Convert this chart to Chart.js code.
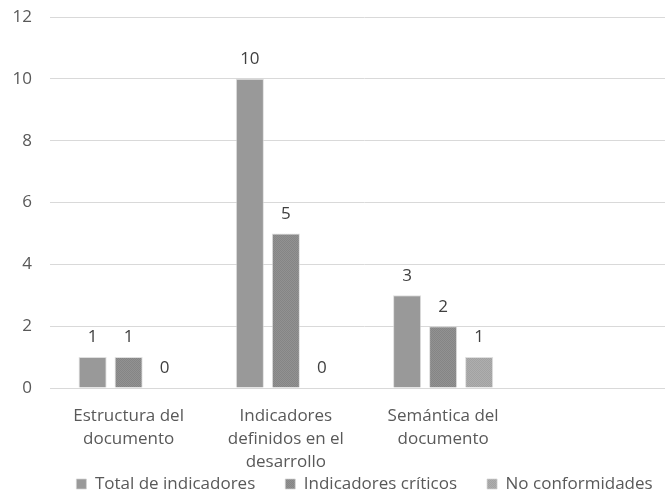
<!DOCTYPE html>
<html>
<head>
<meta charset="utf-8">
<script src="https://cdn.jsdelivr.net/npm/chart.js@4/dist/chart.umd.min.js"></script>
<style>
  html, body { margin: 0; padding: 0; background: #fff; overflow: hidden; }
  #wrap { position: relative; width: 730px; height: 494px; }
</style>
</head>
<body>
<div id="wrap"><canvas id="chart"></canvas></div>
<script>
// Categories (multi-line labels); the trailing empty slot keeps the spacing of the plot
const categories = [
  ['Estructura del', 'documento'],
  ['Indicadores', 'definidos en el', 'desarrollo'],
  ['Semántica del', 'documento'],
  ''
];
const seriesNames = ['Total de indicadores', 'Indicadores críticos', 'No conformidades'];
const totalIndicadores = [1, 10, 3, null];
const indicadoresCriticos = [1, 5, 2, null];
const noConformidades = [0, 0, 1, null];
const yMin = 0, yMax = 12, yStep = 2;

const FONT = '"Open Sans"';
const FONT_SIZE = 17;
const TEXT = '#595959';

// fine dotted fill used for the darker and lighter series
function dotPattern(a, b) {
  const c = document.createElement('canvas');
  c.width = 2; c.height = 2;
  const g = c.getContext('2d');
  g.fillStyle = a; g.fillRect(0, 0, 2, 2);
  g.fillStyle = b; g.fillRect(0, 0, 1, 1); g.fillRect(1, 1, 1, 1);
  return g.createPattern(c, 'repeat');
}

// value labels above each bar
const valueLabels = {
  id: 'valueLabels',
  afterDatasetsDraw(chart) {
    const ctx = chart.ctx;
    ctx.save();
    ctx.font = FONT_SIZE + 'px ' + FONT;
    ctx.fillStyle = '#404040';
    ctx.textAlign = 'center';
    ctx.textBaseline = 'middle';
    chart.data.datasets.forEach((ds, i) => {
      chart.getDatasetMeta(i).data.forEach((bar, j) => {
        const v = ds.data[j];
        if (v === null || v === undefined) return;
        ctx.fillText(String(v), bar.x, bar.y - 19.5);
      });
    });
    ctx.restore();
  }
};

// keep the legend row close under the category labels, centred on the plot area
const legendRow = {
  id: 'legendRow',
  afterLayout(chart) {
    const lg = chart.legend;
    if (!lg) return;
    const pad = lg.options.labels.padding;
    const rowCentre = chart.scales.x.bottom + 10;
    const dy = rowCentre - (lg.top + pad + FONT_SIZE / 2);
    const dx = (chart.chartArea.left + chart.chartArea.right) / 2 - (lg.left + lg.right) / 2;
    lg.top += dy; lg.bottom += dy;
    lg.left += dx; lg.right += dx;
  }
};

new Chart(document.getElementById('chart'), {
  type: 'bar',
  data: {
    labels: categories,
    datasets: [
      { label: seriesNames[0], data: totalIndicadores, backgroundColor: '#999999' },
      { label: seriesNames[1], data: indicadoresCriticos, backgroundColor: dotPattern('#929292', '#858585') },
      { label: seriesNames[2], data: noConformidades, backgroundColor: dotPattern('#aeaeae', '#a2a2a2') }
    ]
  },
  options: {
    responsive: true,
    maintainAspectRatio: false,
    animation: false,
    layout: { padding: { top: 17, left: 0, right: 51, bottom: -37 } },
    datasets: { bar: { categoryPercentage: 0.687, barPercentage: 0.78, borderColor: 'rgba(210,210,210,0.7)', borderWidth: 1 } },
    plugins: {
      tooltip: { enabled: false },
      legend: {
        position: 'bottom',
        labels: { font: { family: FONT, size: FONT_SIZE }, color: TEXT, boxWidth: 10, boxHeight: 10, padding: 30 }
      }
    },
    scales: {
      x: {
        afterFit(scale) { scale.height = 86; },
        grid: { display: false },
        border: { display: true, color: '#d9d9d9' },
        ticks: { font: { family: FONT, size: FONT_SIZE, lineHeight: 1.35 }, color: TEXT, maxRotation: 0, autoSkip: false, padding: 9 }
      },
      y: {
        min: yMin, max: yMax,
        afterFit(scale) { scale.width = 50; scale.paddingTop = 0; scale.paddingBottom = 0; },
        grid: { color: '#d9d9d9', drawTicks: false },
        border: { display: false },
        ticks: { stepSize: yStep, font: { family: FONT, size: FONT_SIZE }, color: TEXT, padding: 18 }
      }
    }
  },
  plugins: [valueLabels, legendRow]
});
</script>
</body>
</html>
